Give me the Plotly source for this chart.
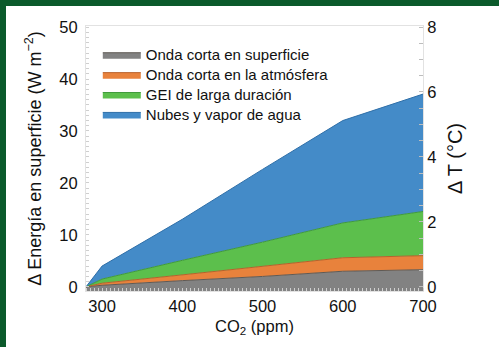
import numpy as np
import plotly.graph_objects as go

# ---- data ----
co2_ppm = [280, 300, 400, 500, 600, 700]
series_names = ["Onda corta en superficie", "Onda corta en la atmósfera",
                "GEI de larga duración", "Nubes y vapor de agua"]
# individual (non-cumulative) contributions, W m-2
sw_surface = [0.0, 0.3, 1.2, 2.0, 3.0, 3.3]
sw_atmos = [0.0, 0.4, 1.1, 2.0, 2.6, 2.7]
ghg_long = [0.0, 0.8, 2.8, 4.6, 6.7, 8.5]
clouds_vapor = [0.0, 2.5, 7.9, 14.0, 19.7, 22.6]

left_ticks = [0, 10, 20, 30, 40, 50]
right_ticks = [0, 2, 4, 6, 8]
x_ticks = [300, 400, 500, 600, 700]

# ---- style ----
colors = ["#828282", "#e8823c", "#5cbf4c", "#448bc8"]
edge = ["#5f5a55", "#b8612a", "#3f9a3a", "#2f6fa8"]
Y_MIN, Y_MAX = -0.8, 50.2
K = 6.25  # W m-2 per degC  (50 <-> 8)
FONT = "Liberation Sans, Arial, sans-serif"
W, H = 499, 347
ML, MR, MT, MB = 86, 76, 26, 56
PW, PH = W - ML - MR, H - MT - MB
BORDER = 6

fig = go.Figure()
# floor trace so the bottom layer fills down to the axis bottom
fig.add_trace(go.Scatter(x=co2_ppm, y=[Y_MIN] * len(co2_ppm), mode="lines",
                         line=dict(width=0), showlegend=False, hoverinfo="skip"))
cum = np.cumsum(np.array([sw_surface, sw_atmos, ghg_long, clouds_vapor]), axis=0)
for i, name in enumerate(series_names):
    fig.add_trace(go.Scatter(x=co2_ppm, y=cum[i], mode="lines",
                             name=f'<span style="font-size:15px">{name}</span>',
                             fill="tonexty", fillcolor=colors[i],
                             line=dict(color=edge[i], width=1)))

# dummy trace for right axis
fig.add_trace(go.Scatter(x=[co2_ppm[0]], y=[0], yaxis="y2", mode="markers",
                         marker=dict(opacity=0), showlegend=False, hoverinfo="skip"))

axis_common = dict(showgrid=False, zeroline=False, showline=True,
                   linecolor="#e2e2e2", linewidth=1,
                   tickfont=dict(size=16.5, color="#111", family=FONT),
                   ticks="")

fig.update_layout(
    width=W, height=H,
    margin=dict(l=ML, r=MR, t=MT, b=MB),
    paper_bgcolor="#0b5a2b", plot_bgcolor="#fffdfd",
    font=dict(family=FONT, color="#111"),
    showlegend=True,
    legend=dict(x=0.035, y=0.948, xanchor="left", yanchor="top",
                bgcolor="rgba(0,0,0,0)", font=dict(size=13, family=FONT, color="#111"),
                traceorder="normal", tracegroupgap=0, itemwidth=38),
    xaxis=dict(range=[280, 700], tickvals=x_ticks, ticktext=[str(v) for v in x_ticks],
               title=dict(text="CO<sub>2</sub> (ppm)", font=dict(size=16.5, family=FONT), standoff=6),
               mirror=True, ticklabelstandoff=0,
               minor=dict(ticks="inside", ticklen=3, tickcolor="#cfcfcf", dtick=5),
               **axis_common),
    yaxis=dict(range=[Y_MIN, Y_MAX], tickvals=left_ticks, ticktext=[str(v) for v in left_ticks],
               title=dict(text="Δ Energía en superficie (W m<sup>−2</sup>)",
                          font=dict(size=18, family=FONT), standoff=13),
               mirror=True, ticklabelstandoff=4,
               minor=dict(ticks="inside", ticklen=3, tickcolor="#cfcfcf", dtick=1),
               **axis_common),
    yaxis2=dict(overlaying="y", side="right", range=[Y_MIN / K, Y_MAX / K],
                tickvals=right_ticks, ticktext=[str(v) for v in right_ticks],
                title=dict(text="Δ T (°C)", font=dict(size=20, family=FONT), standoff=12),
                ticklabelstandoff=0,
                minor=dict(ticks="inside", ticklen=4, tickcolor="#bdbdbd", dtick=0.5),
                **axis_common),
    shapes=[
        dict(type="rect", xref="paper", yref="paper",
             x0=(BORDER - ML) / PW, x1=1 + (MR + 20) / PW,
             y0=-(MB + 20) / PH, y1=1 + (MT - BORDER) / PH,
             fillcolor="white", line=dict(width=0), layer="below"),
    ],
)

fig.write_html("out.html")
